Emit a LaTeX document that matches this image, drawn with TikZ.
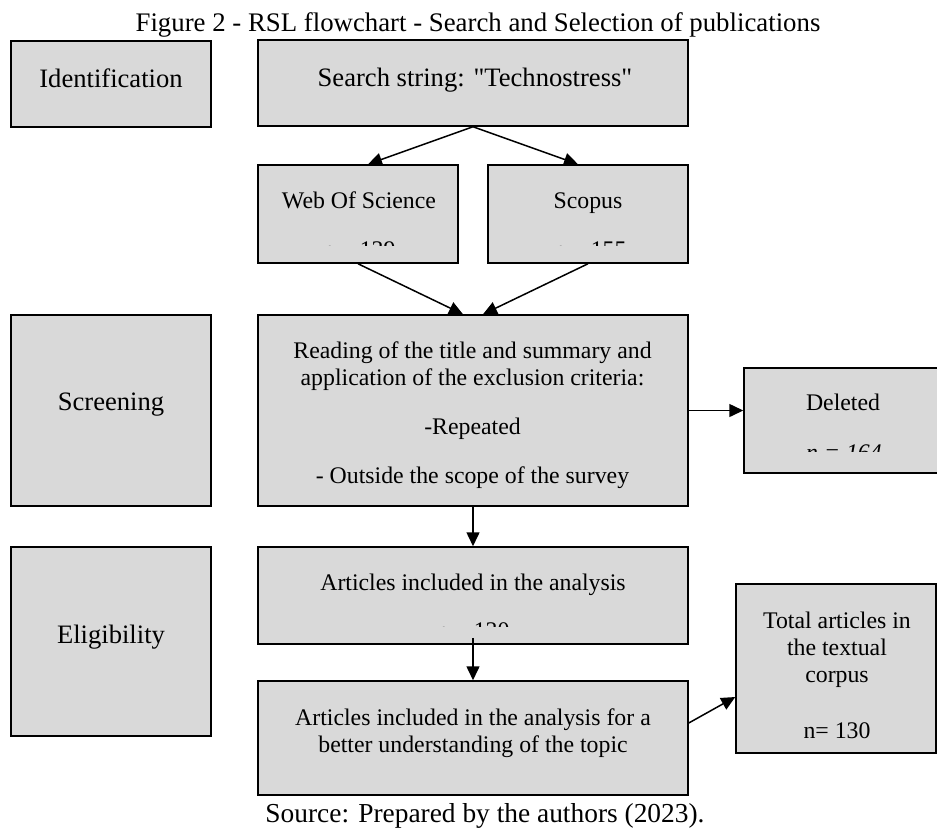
\documentclass[tikz,border=0pt]{standalone}
\usepackage{fontspec}
\setmainfont{Liberation Serif}[Ligatures=TeXOff]
\usepackage{tikz}
\usetikzlibrary{arrows.meta}

\definecolor{BoxGray}{RGB}{217,217,217}

\tikzset{
  box/.style={draw, fill=BoxGray, line width=1.5pt, inner sep=0pt},
  txt/.style={anchor=base, align=center, inner sep=0pt, font=\fontsize{23.8}{27}\selectfont},
  bigtxt/.style={txt, font=\fontsize{26.6}{30}\selectfont},
  arr/.style={-{Triangle[length=14pt, width=13pt]}, line width=1.5pt},
}

\begin{document}
\begin{tikzpicture}[x=1pt, y=-1pt]
  \clip (0,0) rectangle (937,828);

  \node[bigtxt, font=\fontsize{26.8}{30}\selectfont] (title) at (478,31) {Figure 2 - RSL flowchart - Search and Selection of publications};

  % stage boxes
  \node[box, minimum width=200pt, minimum height=86pt] (ident) at (111,84) {};
  \node[box, minimum width=200pt, minimum height=191pt] (screen) at (111,410.5) {};
  \node[box, minimum width=200pt, minimum height=189pt] (elig) at (111,641.5) {};
  \node[bigtxt] (identT) at (111,87) {Identification};
  \node[bigtxt] (screenT) at (111,410) {Screening};
  \node[bigtxt] (eligT) at (111,643) {Eligibility};

  % flow boxes
  \node[box, minimum width=430pt, minimum height=86pt] (search) at (473,83) {};
  \node[box, minimum width=200pt, minimum height=98pt] (wos) at (358,214) {};
  \node[box, minimum width=200pt, minimum height=98pt] (scopus) at (588,214) {};
  \node[box, minimum width=430pt, minimum height=191pt] (reading) at (473,410.5) {};
  \node[box, minimum width=201pt, minimum height=105pt] (deleted) at (844.5,420.5) {};
  \node[box, minimum width=430pt, minimum height=97pt] (incl) at (473,595.5) {};
  \node[box, minimum width=430pt, minimum height=114pt] (better) at (473,738) {};
  \node[box, minimum width=200pt, minimum height=169pt] (total) at (836,668.5) {};

  % multi-line texts sit on the baseline of their last line
  \node[bigtxt] (searchT) at (475,86) {Search string: "Technostress"};
  \node[txt] (wosT) at (359,208) {Web Of Science};
  \node[txt] (scopusT) at (588,208) {Scopus};
  \node[txt] (readingT) at (472.5,483) {Reading of the title and summary and\\
    application of the exclusion criteria:\\[22pt]
    -Repeated\\[22pt]
    - Outside the scope of the survey};
  \node[txt] (deletedT) at (843,410) {Deleted};
  \node[txt] (inclT) at (473,590) {Articles included in the analysis};
  \node[txt] (betterT) at (473,752) {Articles included in the analysis for a\\better understanding of the topic};
  \node[txt] (totalT) at (837,738) {Total articles in\\the textual\\corpus\\[29pt]n= 130};

  % counts cut off by the box
  \begin{scope}
    \clip (wos.north west) rectangle (458,245);
    \node[txt] (wosN) at (359,257) {n = 139};
  \end{scope}
  \begin{scope}
    \clip (scopus.north west) rectangle (688,245);
    \node[txt] (scopusN) at (590,257) {n = 155};
  \end{scope}
  \begin{scope}
    \clip (deleted.north west) rectangle (945,451);
    \node[txt, font=\fontsize{23.8}{27}\selectfont\itshape] (deletedN) at (844,460) {n = 164};
  \end{scope}
  \begin{scope}
    \clip (incl.north west) rectangle (688,626);
    \node[txt] (inclN) at (473,638) {n = 130};
  \end{scope}

  \node[txt, font=\fontsize{27.4}{30}\selectfont] (source) at (485,822) {Source: Prepared by the authors (2023).};

  % arrows
  \coordinate (inclStart) at ([yshift=7pt]incl.south);
  \draw[arr] (search.south) -- ([xshift=10pt]wos.north);
  \draw[arr] (search.south) -- ([xshift=-10pt]scopus.north);
  \draw[arr] (wos.south) -- ([xshift=-10pt]reading.north);
  \draw[arr] (scopus.south) -- ([xshift=10pt]reading.north);
  \draw[arr] (reading.east) -- (reading.east -| deleted.west);
  \draw[arr] (reading.south) -- (incl.north);
  \draw[arr] (inclStart) -- (better.north);
  \draw[arr] ([yshift=15pt]better.east) -- ([yshift=-28.5pt]total.west);
\end{tikzpicture}
\end{document}
